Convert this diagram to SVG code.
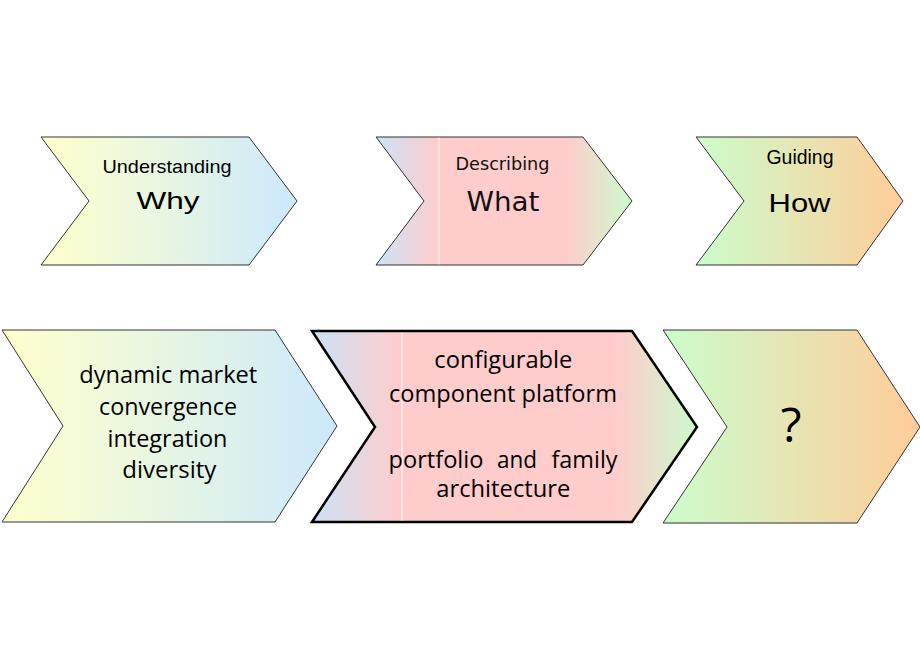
<svg xmlns="http://www.w3.org/2000/svg" width="920" height="660" viewBox="0 0 920 660">
<defs>
<linearGradient id="gWhy" x1="0" y1="0" x2="1" y2="0">
<stop offset="0" stop-color="#ffffcc"/>
<stop offset="0.5" stop-color="#e6f5e3"/>
<stop offset="1" stop-color="#cce8fc"/>
</linearGradient>
<linearGradient id="gWhatTop" x1="0" y1="0" x2="1" y2="0">
<stop offset="0" stop-color="#cce2f6"/>
<stop offset="0.246" stop-color="#ffcccc"/>
<stop offset="0.74" stop-color="#ffcccc"/>
<stop offset="1" stop-color="#ccfacc"/>
</linearGradient>
<linearGradient id="gWhatBot" x1="0" y1="0" x2="1" y2="0">
<stop offset="0" stop-color="#cce2f6"/>
<stop offset="0.234" stop-color="#ffcccc"/>
<stop offset="0.79" stop-color="#ffcccc"/>
<stop offset="1" stop-color="#ccfacc"/>
</linearGradient>
<linearGradient id="gHow" x1="0" y1="0" x2="1" y2="0">
<stop offset="0" stop-color="#ccfccc"/>
<stop offset="0.5" stop-color="#e6e5b3"/>
<stop offset="1" stop-color="#ffcc99"/>
</linearGradient>
<style>
.thin{stroke:#333;stroke-width:1;stroke-linejoin:miter}
.thick{stroke:#000;stroke-width:2.5;stroke-linejoin:miter}
.sep{stroke:#ffffff;stroke-width:1}
.arial{font-family:"Liberation Sans",Arial,sans-serif;fill:#000}
.dv{font-family:"DejaVu Sans",Verdana,sans-serif;fill:#111}
.body{font-family:"Open Sans","Noto Sans",sans-serif;fill:#000;font-size:23.5px}
</style>
</defs>
<g id="connectors"></g>
<g id="node-why">
<polygon class="thin" fill="url(#gWhy)" points="41,137 249,137 297,201 249,265 41,265 89,201"/>
<text class="arial" x="167" y="172.5" font-size="18.5" text-anchor="middle" textLength="129" lengthAdjust="spacingAndGlyphs">Understanding</text>
<text class="arial" x="168" y="209.3" font-size="24.5" text-anchor="middle" textLength="63" lengthAdjust="spacingAndGlyphs">Why</text>
</g>
<g id="node-what">
<polygon class="thin" fill="url(#gWhatTop)" points="376,137 583,137 632,201 583,265 376,265 424,201"/>
<line class="sep" x1="439" y1="137.6" x2="439" y2="264.4"/>
<text class="dv" x="502.5" y="170" font-size="17.5" text-anchor="middle" textLength="94" lengthAdjust="spacingAndGlyphs">Describing</text>
<text class="dv" x="503" y="210.7" font-size="26" text-anchor="middle" textLength="73" lengthAdjust="spacingAndGlyphs">What</text>
</g>
<g id="node-how">
<polygon class="thin" fill="url(#gHow)" points="696,137 857,137 903,201 857,265 696,265 744,201"/>
<text class="arial" x="800" y="164.3" font-size="19.5" text-anchor="middle" textLength="67" lengthAdjust="spacingAndGlyphs">Guiding</text>
<text class="arial" x="799.5" y="211.7" font-size="26.5" text-anchor="middle" textLength="62" lengthAdjust="spacingAndGlyphs">How</text>
</g>
<g id="node-drivers">
<polygon class="thin" fill="url(#gWhy)" points="2,330 275,330 337,426 275,522 2,522 63,426"/>
<text class="body" x="168.3" y="383.3" text-anchor="middle" textLength="178" lengthAdjust="spacingAndGlyphs">dynamic market</text>
<text class="body" x="168" y="415" text-anchor="middle" textLength="138" lengthAdjust="spacingAndGlyphs">convergence</text>
<text class="body" x="167.5" y="446.7" text-anchor="middle" textLength="120" lengthAdjust="spacingAndGlyphs">integration</text>
<text class="body" x="169.3" y="478.3" text-anchor="middle" textLength="94" lengthAdjust="spacingAndGlyphs">diversity</text>
</g>
<g id="node-platform">
<polygon class="thick" fill="url(#gWhatBot)" points="312,331 632,331 697,427 632,522 312,522 375,427"/>
<line class="sep" x1="402" y1="332.5" x2="402" y2="520.5"/>
<text class="body" x="503.3" y="368.3" text-anchor="middle" textLength="138" lengthAdjust="spacingAndGlyphs">configurable</text>
<text class="body" x="503" y="401.7" text-anchor="middle" textLength="228" lengthAdjust="spacingAndGlyphs">component platform</text>
<text class="body" y="468"><tspan x="388.5" textLength="95" lengthAdjust="spacingAndGlyphs">portfolio</tspan> <tspan x="497" textLength="40" lengthAdjust="spacingAndGlyphs">and</tspan> <tspan x="551.5" textLength="66" lengthAdjust="spacingAndGlyphs">family</tspan></text>
<text class="body" x="503.3" y="497" text-anchor="middle" textLength="134" lengthAdjust="spacingAndGlyphs">architecture</text>
</g>
<g id="node-unknown">
<polygon class="thin" fill="url(#gHow)" points="663,330 857,330 920,427 857,523 663,523 727,427"/>
<text class="body" x="791" y="441.7" style="font-size:48px" text-anchor="middle">?</text>
</g>
</svg>
